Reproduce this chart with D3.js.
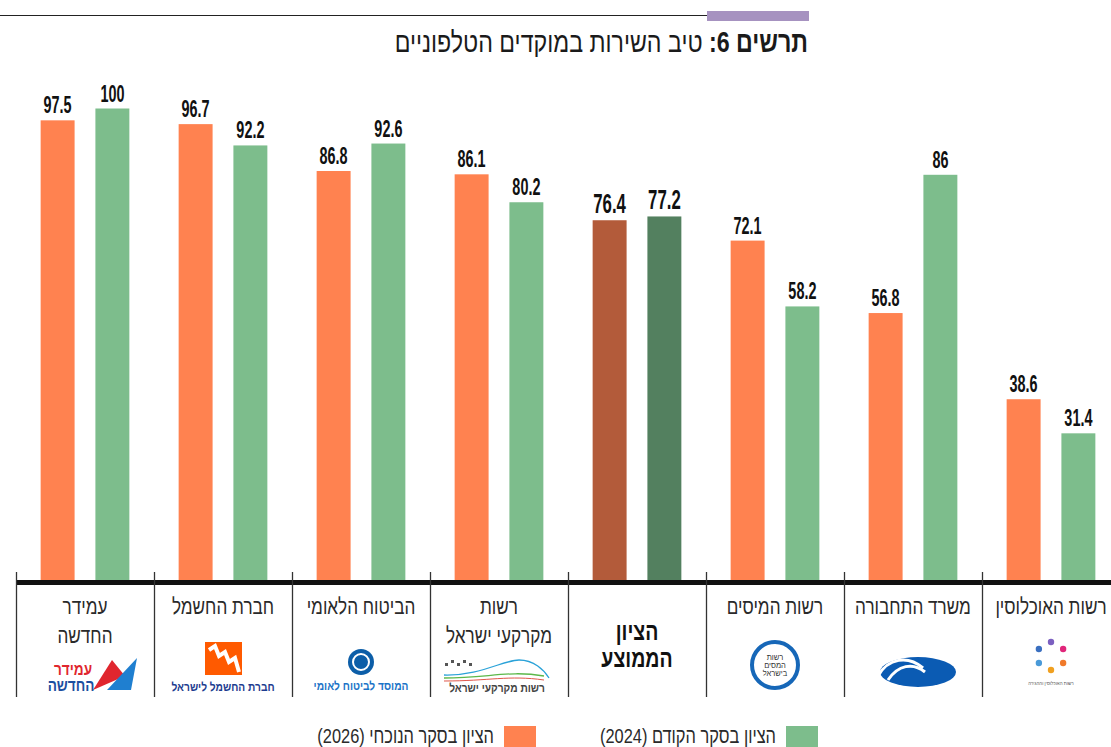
<!DOCTYPE html>
<html>
<head>
<meta charset="utf-8">
<script src="https://cdn.jsdelivr.net/npm/d3@7"></script>
<style>
  body { margin: 0; background: #fff; }
  text { font-family: "Liberation Sans", "DejaVu Sans", sans-serif; }
</style>
</head>
<body>
<div id="chart"></div>
<script>
var svgWidth = 1111;
var svgHeight = 747;

// data, left to right as in the picture
var categories = ["עמידר החדשה", "חברת החשמל", "הביטוח הלאומי", "רשות מקרקעי ישראל",
                  "הציון הממוצע", "רשות המיסים", "משרד התחבורה", "רשות האוכלוסין"];
var labelLines = [["עמידר", "החדשה"], ["חברת החשמל"], ["הביטוח הלאומי"], ["רשות", "מקרקעי ישראל"],
                  ["הציון", "הממוצע"], ["רשות המיסים"], ["משרד התחבורה"], ["רשות האוכלוסין"]];
var current2026 = [97.5, 96.7, 86.8, 86.1, 76.4, 72.1, 56.8, 38.6];
var previous2024 = [100, 92.2, 92.6, 80.2, 77.2, 58.2, 86, 31.4];
var seriesKeys = ["2026", "2024"];
var legendLabels = ["הציון בסקר הנוכחי (2026)", "הציון בסקר הקודם (2024)"];
var averageName = "הציון הממוצע";

var colors = {
    "2026": "#ff8250",
    "2024": "#7dbd8c",
    "avg2026": "#b35b3a",
    "avg2024": "#53805f"
};

var baseline = 582;

var svg = d3.select("#chart")
    .append("svg")
    .attr("width", svgWidth)
    .attr("height", svgHeight);

// title block
svg.append("line")
    .attr("x1", 0).attr("x2", 707)
    .attr("y1", 15.5).attr("y2", 15.5)
    .attr("stroke", "#222")
    .attr("stroke-width", 1.2);

svg.append("rect")
    .attr("x", 707).attr("y", 11)
    .attr("width", 102).attr("height", 10)
    .attr("fill", "#a692c0");

var title = svg.append("text")
    .attr("transform", "translate(808,52) scale(0.8,1)")
    .attr("direction", "rtl")
    .attr("text-anchor", "start")
    .attr("font-size", 29)
    .attr("fill", "#1a1a1a");
title.append("tspan").attr("font-weight", "bold").text("תרשים 6:");
title.append("tspan").text(" טיב השירות במוקדים הטלפוניים");

// scales
var x0 = d3.scaleBand()
    .domain(categories)
    .range([16, 16 + 138 * categories.length])
    .padding(0);

var x1 = d3.scaleBand()
    .domain(seriesKeys)
    .range([0, x0.bandwidth()])
    .paddingInner(0.38)
    .paddingOuter(0.45);

var y = d3.scaleLinear()
    .domain([0, 100])
    .range([baseline, 108.5]);

var rows = categories.map(function(c, i) {
    return { name: c, lines: labelLines[i], values: { "2026": current2026[i], "2024": previous2024[i] } };
});

var groups = svg.selectAll("g.group")
    .data(rows)
    .enter().append("g")
    .attr("class", "group")
    .attr("transform", d => `translate(${x0(d.name)},0)`);

groups.selectAll("rect")
    .data(d => seriesKeys.map(k => ({ key: k, value: d.values[k], avg: d.name === averageName })))
    .enter().append("rect")
    .attr("x", d => x1(d.key))
    .attr("y", d => y(d.value))
    .attr("width", x1.bandwidth())
    .attr("height", d => baseline - y(d.value))
    .attr("fill", d => d.avg ? colors["avg" + d.key] : colors[d.key]);

groups.selectAll("text.value")
    .data(d => seriesKeys.map(k => ({ key: k, value: d.values[k], avg: d.name === averageName })))
    .enter().append("text")
    .attr("class", "value")
    .attr("transform", d => `translate(${x1(d.key) + x1.bandwidth() / 2},${y(d.value) - 7}) scale(0.6,1)`)
    .attr("text-anchor", "middle")
    .attr("font-weight", "bold")
    .attr("font-size", d => d.avg ? 28 : 24)
    .attr("fill", "#111")
    .text(d => d.value);

// baseline and separators
svg.append("line")
    .attr("x1", 16).attr("x2", svgWidth)
    .attr("y1", 582.5).attr("y2", 582.5)
    .attr("stroke", "#111")
    .attr("stroke-width", 5);

svg.selectAll("line.sep")
    .data(categories)
    .enter().append("line")
    .attr("class", "sep")
    .attr("x1", d => x0(d) + 0.5).attr("x2", d => x0(d) + 0.5)
    .attr("y1", 572).attr("y2", 697)
    .attr("stroke", "#333")
    .attr("stroke-width", 1.3);

// category labels
groups.each(function(d) {
    var g = d3.select(this);
    var cx = x0.bandwidth() / 2;
    var isAvg = d.name === averageName;
    d.lines.forEach(function(line, j) {
        var yy = isAvg ? 640 + j * 27 : 614 + j * 29;
        g.append("text")
            .attr("transform", `translate(${cx},${yy}) scale(0.78,1)`)
            .attr("text-anchor", "middle")
            .attr("direction", "rtl")
            .attr("font-size", isAvg ? 25 : 22)
            .attr("font-weight", isAvg ? "bold" : "normal")
            .attr("fill", isAvg ? "#111" : "#2a2a2a")
            .text(line);
    });
});

// simplified logos
function logoText(g, cx, yy, txt, size, color) {
    g.append("text")
        .attr("transform", `translate(${cx},${yy}) scale(0.85,1)`)
        .attr("text-anchor", "middle")
        .attr("direction", "rtl")
        .attr("font-size", size)
        .attr("font-weight", "bold")
        .attr("fill", color)
        .text(txt);
}

var logoDraw = [
    function(g, cx) { // amidar
        g.append("path").attr("d", `M${cx + 8},690 L${cx + 27},660 L${cx + 40},676 Z`).attr("fill", "#e0262e");
        g.append("path").attr("d", `M${cx + 22},690 L${cx + 52},658 L${cx + 46},690 Z`).attr("fill", "#1f7fd0");
        logoText(g, cx - 12, 675, "עמידר", 16, "#e0262e");
        logoText(g, cx - 14, 691, "החדשה", 16, "#1c4fa0");
    },
    function(g, cx) { // iec
        g.append("rect").attr("x", cx - 18).attr("y", 642).attr("width", 37).attr("height", 33).attr("fill", "#ff5a00");
        g.append("path").attr("d", `M${cx - 14},650 l6,-4 l4,10 l6,-4 l4,10 l6,-4 l4,14`)
            .attr("fill", "none").attr("stroke", "#fff").attr("stroke-width", 4);
        logoText(g, cx, 691, "חברת החשמל לישראל", 12, "#1d3c8f");
    },
    function(g, cx) { // bituach leumi
        g.append("circle").attr("cx", cx).attr("cy", 662).attr("r", 13).attr("fill", "#0c5ea8");
        g.append("circle").attr("cx", cx).attr("cy", 662).attr("r", 8).attr("fill", "none").attr("stroke", "#fff").attr("stroke-width", 2);
        logoText(g, cx, 690, "המוסד לביטוח לאומי", 12, "#1a73c7");
    },
    function(g, cx) { // land authority
        g.append("path").attr("d", `M${cx - 55},675 C${cx - 20},676 ${cx + 5},660 ${cx + 20},660 S${cx + 45},670 ${cx + 50},678`)
            .attr("fill", "none").attr("stroke", "#2aa2d8").attr("stroke-width", 1.3);
        g.append("path").attr("d", `M${cx - 55},678 C${cx - 10},678 ${cx + 10},670 ${cx + 45},676`)
            .attr("fill", "none").attr("stroke", "#5cb84a").attr("stroke-width", 1.3);
        g.append("path").attr("d", `M${cx - 55},681 C${cx - 10},681 ${cx + 10},675 ${cx + 45},680`)
            .attr("fill", "none").attr("stroke", "#e0564a").attr("stroke-width", 1);
        [0, 6, 12, 18, 24].forEach(function(o, k) {
            g.append("rect").attr("x", cx - 54 + o).attr("y", 663 - (k % 2) * 3).attr("width", 3).attr("height", 3).attr("fill", "#555");
        });
        logoText(g, cx - 2, 692, "רשות מקרקעי ישראל", 12, "#444");
    },
    function(g, cx) {},
    function(g, cx) { // tax
        g.append("circle").attr("cx", cx).attr("cy", 665).attr("r", 23)
            .attr("fill", "none").attr("stroke", "#1667b8").attr("stroke-width", 4);
        ["רשות", "המסים", "בישראל"].forEach(function(t, k) {
            g.append("text").attr("x", cx).attr("y", 660 + k * 8)
                .attr("text-anchor", "middle").attr("font-size", 7.5).attr("fill", "#333").text(t);
        });
    },
    function(g, cx) { // transport
        g.append("ellipse").attr("cx", cx + 5).attr("cy", 672).attr("rx", 38).attr("ry", 15).attr("fill", "#0b5bb3");
        g.append("path").attr("d", `M${cx - 35},676 C${cx - 25},658 ${cx - 5},655 ${cx + 10},668`)
            .attr("fill", "none").attr("stroke", "#fff").attr("stroke-width", 3);
        g.append("path").attr("d", `M${cx - 25},680 C${cx - 15},665 ${cx},662 ${cx + 12},672`)
            .attr("fill", "none").attr("stroke", "#fff").attr("stroke-width", 3);
    },
    function(g, cx) { // population
        var cols = ["#7b5fc0", "#e0267a", "#f07a2a", "#f0a020", "#4a9ad8", "#3a6fc0"];
        d3.range(6).forEach(function(k) {
            var a = -Math.PI / 2 + k * Math.PI / 3;
            g.append("circle").attr("cx", cx + 14 * Math.cos(a)).attr("cy", 656 + 14 * Math.sin(a))
                .attr("r", 3.2).attr("fill", cols[k]);
        });
        g.append("text").attr("x", cx).attr("y", 685).attr("text-anchor", "middle")
            .attr("font-size", 4.5).attr("fill", "#555").text("רשות האוכלוסין וההגירה");
    }
];

groups.each(function(d, i) {
    logoDraw[i](d3.select(this), x0.bandwidth() / 2);
});

// legend
var legend = svg.append("g");
var legendItems = [
    { key: "2026", label: legendLabels[0], sx: 504, tx: 494 },
    { key: "2024", label: legendLabels[1], sx: 786, tx: 776 }
];
legendItems.forEach(function(item) {
    legend.append("rect")
        .attr("x", item.sx).attr("y", 726)
        .attr("width", 32).attr("height", 21)
        .attr("fill", colors[item.key]);
    legend.append("text")
        .attr("transform", `translate(${item.tx},743) scale(0.78,1)`)
        .attr("direction", "rtl")
        .attr("text-anchor", "start")
        .attr("font-size", 21)
        .attr("fill", "#2a2a2a")
        .text(item.label);
});
</script>
</body>
</html>
